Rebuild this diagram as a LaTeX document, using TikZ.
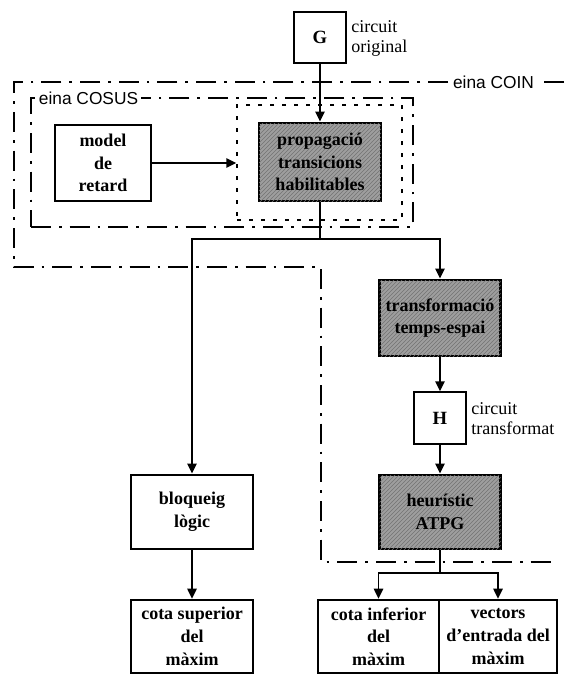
\documentclass[tikz,border=0pt]{standalone}
\usepackage{fontspec}
\setmainfont{Liberation Serif}
\newfontfamily\toolfont{Liberation Sans}
\usetikzlibrary{arrows.meta,patterns}
\begin{document}
\begin{tikzpicture}[x=0.75pt,y=-0.75pt,
  box/.style={draw,line width=2.2pt,align=center,font=\fontsize{13.5}{17}\selectfont\bfseries,inner sep=0pt},
  shaded/.style={box,fill=black!38,postaction={pattern=north east lines,pattern color=black!55}},
  letterbox/.style={draw,line width=1.6pt,font=\fontsize{14}{16}\selectfont\bfseries,inner sep=0pt,minimum width=38.5pt,minimum height=38.5pt},
  note/.style={align=left,font=\fontsize{13.5}{15}\selectfont,inner sep=0pt,anchor=west},
  flow/.style={line width=1.1pt,-{Triangle[length=7.5pt,width=7pt]}},
  link/.style={line width=1.1pt},
  toolline/.style={line width=1.1pt,dash pattern=on 15pt off 6pt on 2pt off 6pt},
  dotline/.style={line width=1.1pt,dash pattern=on 3pt off 6pt},
  toollabel/.style={font=\toolfont\fontsize{13}{15}\selectfont,fill=white,inner xsep=2pt,inner ysep=1pt}
]
\useasboundingbox (0,0) rectangle (567,674);

% tool regions
\coordinate (coinNE) at (564,82);
\coordinate (coinNW) at (14,82);
\coordinate (coinSW) at (14,267);
\coordinate (coinS)  at (321,267);
\coordinate (coinSE) at (321,562);
\coordinate (coinE)  at (553,562);
\draw[toolline] (coinNE) -- (coinNW) -- (coinSW) -- (coinS) -- (coinSE) -- (coinE);
\node[toollabel] (coinlbl) at (493.5,82) {eina COIN};

\node[draw,toolline,minimum width=286.5pt,minimum height=96.75pt] (cosus) at (222,162.5) {};
\node[toollabel,anchor=west] (cosuslbl) at (36,98) {eina COSUS};

\node[draw,dotline,minimum width=123.75pt,minimum height=86.25pt] (inner) at (319.5,162.5) {};

% blocks
\node[letterbox] (G) at (320,37.5) {G};
\node[note] (Gnote) at (351,38) {circuit\\original};

\node[box,minimum width=72pt,minimum height=57pt] (model) at (103,163) {model\\de\\retard};
\node[shaded,minimum width=91.5pt,minimum height=58.5pt] (prop) at (320,162) {propagació\\transicions\\habilitables};

\node[shaded,minimum width=90.75pt,minimum height=57pt] (trans) at (440,318) {transformació\\temps-espai};
\node[letterbox] (H) at (440,418) {H};
\node[note] (Hnote) at (471,418.5) {circuit\\transformat};
\node[shaded,minimum width=90.75pt,minimum height=55.5pt] (heur) at (440,512) {heurístic\\ATPG};

\node[box,minimum width=91.5pt,minimum height=55.5pt] (bloq) at (192,512) {bloqueig\\lògic};
\node[box,line width=1.9pt,minimum width=91.5pt,minimum height=54.75pt] (cotasup) at (192,636.5) {cota superior\\del\\màxim};
\node[box,line width=1.9pt,minimum width=90.75pt,minimum height=54.75pt] (cotainf) at (378.5,636.5) {cota inferior\\del\\màxim};
\node[box,line width=1.9pt,minimum width=88.5pt,minimum height=54.75pt] (vectors) at (498,636.5) {vectors\\d'entrada del\\màxim};

% connectors
\draw[flow] (G) -- (prop);
\draw[flow] (model.east) -- (model.east -| inner.west);
\coordinate (fork) at (320,239);
\draw[link] (prop.south) -- (fork);
\draw[flow] (fork) -| (bloq.north);
\draw[flow] (fork) -| (trans.north);
\draw[flow] (trans) -- (H);
\draw[flow] (H) -- (heur);
\draw[flow] (bloq) -- (cotasup);
\coordinate (split) at (440,573);
\draw[link] (heur.south) -- (split);
\draw[flow] (split) -| (cotainf.north);
\draw[flow] (split) -| (vectors.north);
\end{tikzpicture}
\end{document}
